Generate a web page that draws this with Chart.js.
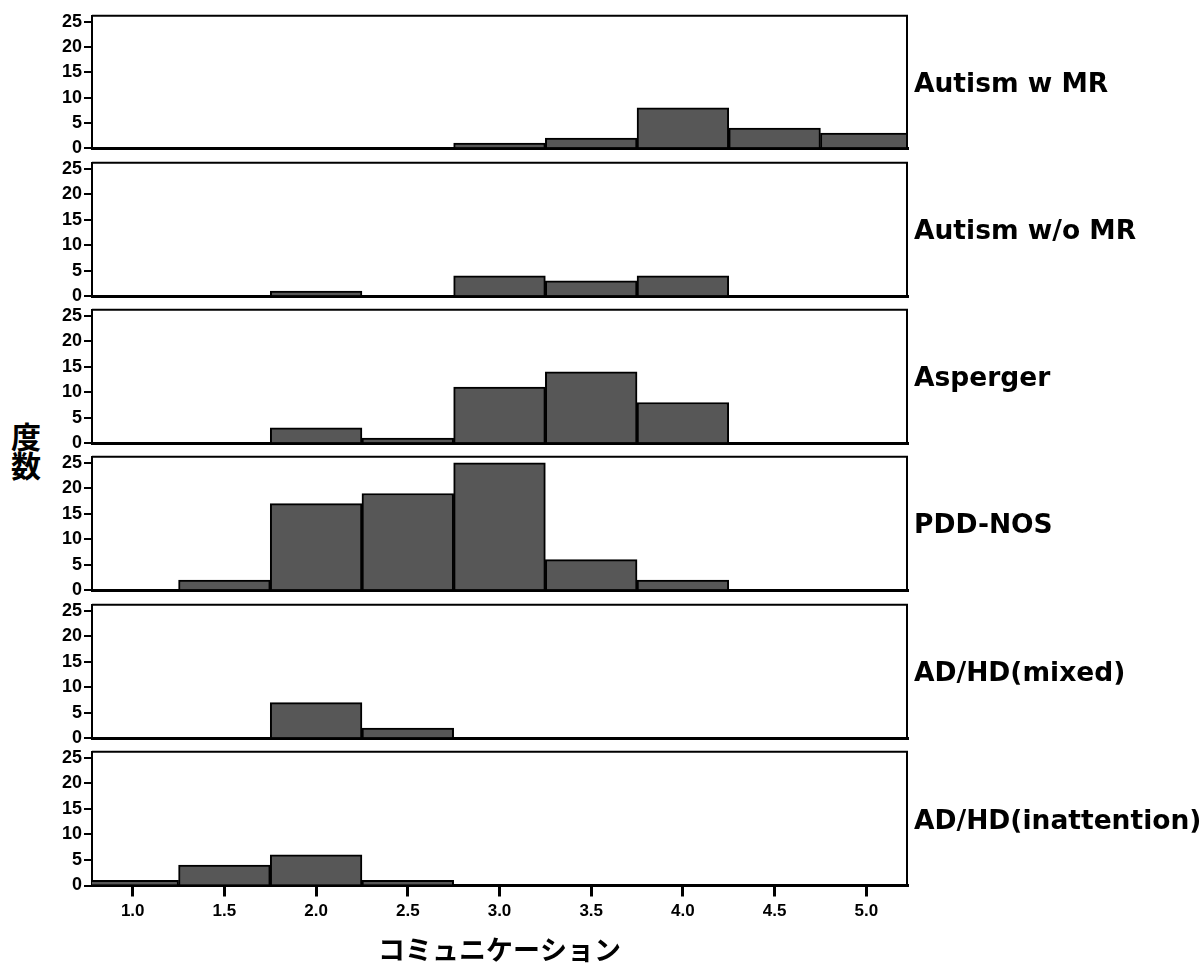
<!DOCTYPE html>
<html>
<head>
<meta charset="utf-8">
<script src="https://cdn.jsdelivr.net/npm/chart.js@4.4.0/dist/chart.umd.min.js"></script>
<style>
    body { margin: 0; background: #fff; width: 1203px; height: 968px; position: relative; overflow: hidden; }
    canvas { position: absolute; left: 0; }
    #y-title {
        position: absolute; left: 10px; top: 421px; width: 32px; text-align: center;
        font: bold 30px "Noto Sans CJK JP"; line-height: 29px; color: #000;
    }
</style>
</head>
<body>
<div id="y-title">度<br>数</div>
<script>
// Data (counts per 0.5-wide bin)
const groups = ['Autism w MR', 'Autism w/o MR', 'Asperger', 'PDD-NOS', 'AD/HD(mixed)', 'AD/HD(inattention)'];
const binCenters = [1.0, 1.5, 2.0, 2.5, 3.0, 3.5, 4.0, 4.5, 5.0];
const autismMR = [0, 0, 0, 0, 1, 2, 8, 4, 3];
const autismNoMR = [0, 0, 1, 0, 4, 3, 4, 0, 0];
const asperger = [0, 0, 3, 1, 11, 14, 8, 0, 0];
const pddNos = [0, 2, 17, 19, 25, 6, 2, 0, 0];
const adhdMixed = [0, 0, 7, 2, 0, 0, 0, 0, 0];
const adhdInattention = [1, 4, 6, 1, 0, 0, 0, 0, 0];
const yTicks = [0, 5, 10, 15, 20, 25];
const xTicks = [1.0, 1.5, 2.0, 2.5, 3.0, 3.5, 4.0, 4.5, 5.0];
const xTitle = 'コミュニケーション';

const seriesList = [autismMR, autismNoMR, asperger, pddNos, adhdMixed, adhdInattention];

// Layout
const PANEL_TOP = 14.5;
const PANEL_PITCH = 147.3;
const PANEL_H = 134.5;
const PLOT_LEFT = 92;
const PLOT_RIGHT = 907;
const PAD = 12;
const tickFont = { family: '"Liberation Sans", Arial, sans-serif', size: 18, weight: 'bold' };

// Draws top/right frame and the group label beside each panel
const panelFrame = {
    id: 'panelFrame',
    afterDraw(chart, args, opts) {
        const { ctx, chartArea: a } = chart;
        ctx.save();
        ctx.strokeStyle = '#000';
        ctx.lineWidth = 2;
        ctx.beginPath();
        ctx.moveTo(a.left, a.top);
        ctx.lineTo(a.right, a.top);
        ctx.lineTo(a.right, a.bottom);
        ctx.stroke();
        ctx.fillStyle = '#000';
        ctx.font = 'bold 26.5px "DejaVu Sans"';
        ctx.textBaseline = 'middle';
        ctx.textAlign = 'left';
        ctx.fillText(opts.label, a.right + 7, (a.top + a.bottom) / 2 + 3);
        ctx.restore();
    }
};

function renderPanel(index) {
    const isLast = index === groups.length - 1;
    const top = PANEL_TOP + index * PANEL_PITCH;
    const canvasTop = Math.round(top - PAD);
    const padTop = top - canvasTop;
    const canvasH = isLast ? 968 - canvasTop : Math.ceil(padTop + PANEL_H + PAD);
    const xAxisH = isLast ? canvasH - padTop - PANEL_H : 0;

    const canvas = document.createElement('canvas');
    canvas.width = 1203;
    canvas.height = canvasH;
    canvas.style.top = canvasTop + 'px';
    document.body.appendChild(canvas);

    const values = seriesList[index];

    return new Chart(canvas, {
        type: 'bar',
        data: {
            datasets: [{
                label: groups[index],
                data: binCenters.map((x, i) => ({ x: x, y: values[i] })),
                backgroundColor: '#575757',
                borderColor: '#000',
                borderWidth: 2,
                barPercentage: 1,
                categoryPercentage: 1,
            }]
        },
        options: {
            responsive: false,
            animation: false,
            layout: { padding: { top: padTop, right: 1203 - PLOT_RIGHT, bottom: isLast ? 0 : canvasH - padTop - PANEL_H, left: 0 } },
            scales: {
                x: {
                    type: 'linear',
                    min: 0.778,
                    max: 5.222,
                    offset: false,
                    afterBuildTicks: axis => { axis.ticks = xTicks.map(v => ({ value: v })); },
                    afterFit: axis => { axis.height = xAxisH; },
                    ticks: {
                        display: isLast,
                        color: '#000',
                        font: { ...tickFont, size: 17 },
                        padding: 5,
                        maxRotation: 0,
                        autoSkip: false,
                        callback: v => v.toFixed(1)
                    },
                    grid: { display: isLast, offset: false, drawOnChartArea: false, drawTicks: true, tickLength: 11, color: '#000', lineWidth: 3 },
                    border: { display: true, color: '#000', width: 3 },
                    title: {
                        display: isLast,
                        text: xTitle,
                        color: '#000',
                        font: { family: '"Noto Sans CJK JP"', size: 27, weight: 'bold' },
                        padding: { top: 0, bottom: 2 }
                    }
                },
                y: {
                    min: 0,
                    max: 26.2,
                    afterBuildTicks: axis => { axis.ticks = yTicks.map(v => ({ value: v })); },
                    afterFit: axis => { axis.width = PLOT_LEFT; },
                    ticks: { color: '#000', font: tickFont, padding: 2 },
                    grid: { drawOnChartArea: false, drawTicks: true, tickLength: 8, color: '#000', lineWidth: 2 },
                    border: { display: true, color: '#000', width: 2 }
                }
            },
            plugins: {
                legend: { display: false },
                tooltip: { enabled: false },
                panelFrame: { label: groups[index] }
            }
        },
        plugins: [panelFrame]
    });
}

groups.forEach((g, i) => renderPanel(i));
</script>
</body>
</html>
